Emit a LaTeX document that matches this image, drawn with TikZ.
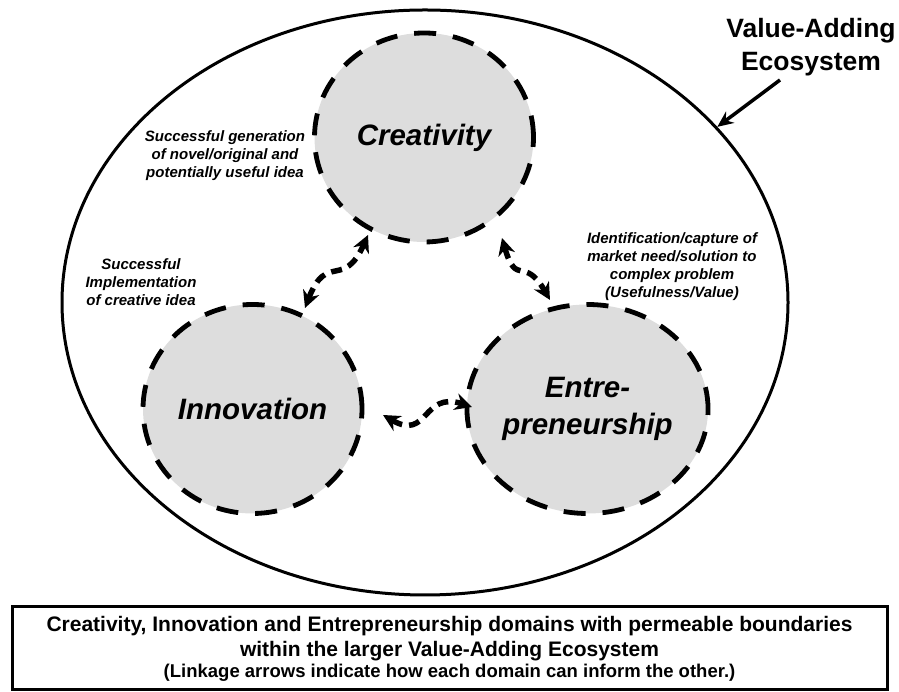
\documentclass[tikz,border=0pt]{standalone}
\usepackage{fontspec}
\setmainfont{Liberation Sans}
\usetikzlibrary{positioning,arrows.meta,shapes.geometric,calc}
\definecolor{domaingray}{RGB}{221,221,221}
\tikzset{
  domainbox/.style = {ellipse, draw, fill=domaingray, line width=4.8pt,
                    dash pattern=on 22pt off 17pt,
                    minimum width=219pt, minimum height=209pt,
                    inner sep=0pt, align=center,
                    font=\fontsize{29.5}{37}\selectfont\bfseries\itshape},
  notetext/.style  = {align=center, inner sep=0pt,
                    font=\fontsize{15}{18}\selectfont\bfseries\itshape},
  linkarr/.style   = {{Stealth[length=17pt,width=17pt]}-{Stealth[length=17pt,width=17pt]},
                    line width=5.5pt, dash pattern=on 11pt off 7pt},
  pointarr/.style  = {-{Stealth[length=16pt,width=14pt]}, line width=3.5pt},
  capbox/.style    = {rectangle, draw, line width=3pt, inner sep=0pt,
                    minimum width=875pt, minimum height=83pt, align=center,
                    font=\fontsize{21}{25}\selectfont\bfseries}
}

\begin{document}
\begin{tikzpicture}[x=1pt,y=1pt]
  \useasboundingbox (0,0) rectangle (899,692);
  \node[ellipse,draw,line width=3pt,inner sep=0pt,
        minimum width=726pt,minimum height=585pt] (eco) at (425,389.5) {};
  \node[domainbox] (crea) at (424,554.5) {Creativity};
  \node[domainbox] (inno) at (252.5,283) {Innovation};
  \node[domainbox] (entre) at (587.5,283) {Entre-\\preneurship};
  \node[notetext] (gen) at (225,536) {Successful generation\\of novel/original and\\potentially useful idea};
  \node[notetext] (impl) at (141,410) {Successful\\Implementation\\of creative idea};
  \node[notetext] (need) at (672,425) {Identification/capture of\\market need/solution to\\complex problem\\(Usefulness/Value)};
  \node[align=center,inner sep=0pt,font=\fontsize{26.5}{33}\selectfont\bfseries]
    (val) at (811,645) {Value-Adding\\Ecosystem};
  \coordinate (tail) at (780,612);
  \draw[pointarr] (tail) -- (eco.31);
  \draw[linkarr] ($(inno)+(52.5,101)$) to[out=69,in=246,looseness=1.6] ($(crea)+(-56,-97.5)$);
  \draw[linkarr] ($(crea)+(78,-100.5)$) to[out=-74,in=120,looseness=1.7] ($(entre)+(-37.5,109)$);
  \draw[linkarr] ($(inno)+(130.5,-6)$) to[out=-30,in=162,looseness=1.5] ($(entre)+(-115.5,2)$);
  \node[capbox] (cap) at (449.5,43.5) {Creativity, Innovation and Entrepreneurship domains with permeable boundaries\\
    within the larger Value-Adding Ecosystem\\[-4pt]
    {\fontsize{18.5}{21}\selectfont (Linkage arrows indicate how each domain can inform the other.)}};
\end{tikzpicture}
\end{document}
